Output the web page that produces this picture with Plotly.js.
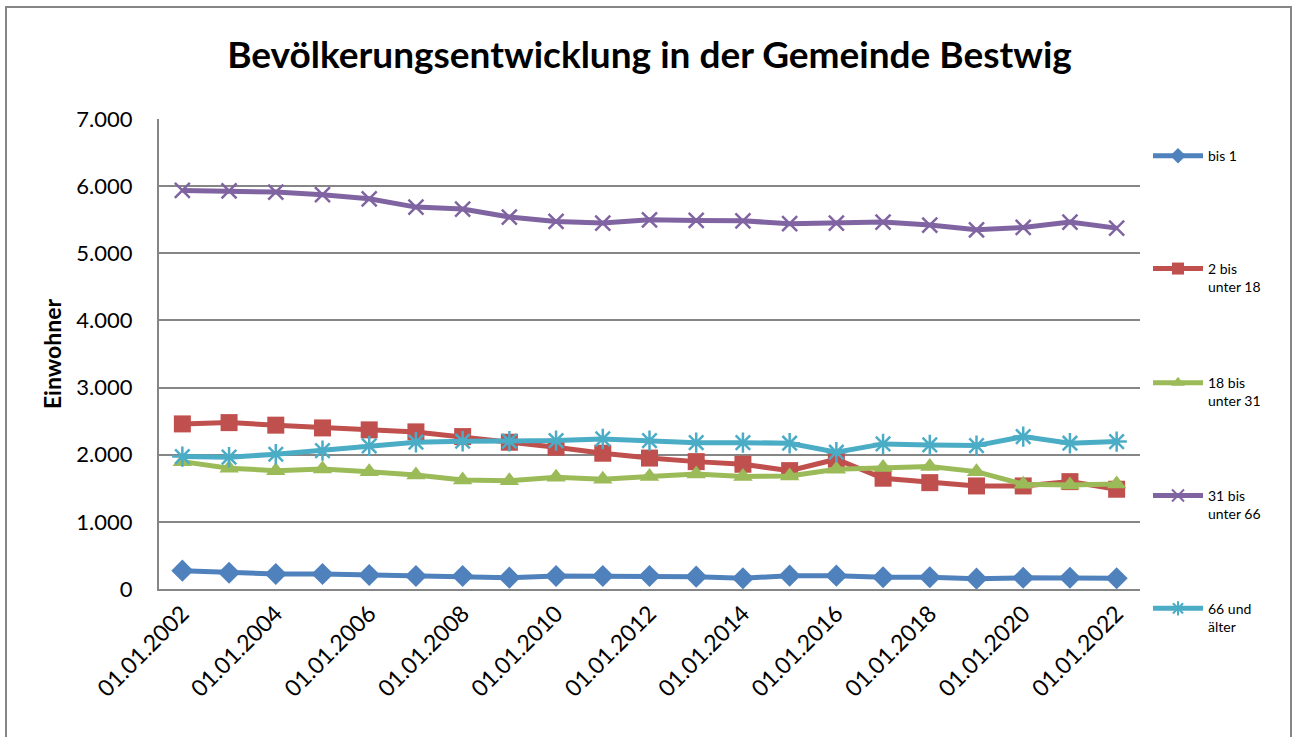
<!DOCTYPE html>
<html>
<head>
<meta charset="utf-8">
<script src="https://cdn.plot.ly/plotly-3.0.1.min.js"></script>
<style>html,body{margin:0;padding:0;background:#fff;}#chart{width:1298px;height:737px;}</style>
</head>
<body>
<div id="chart"></div>
<script>
const dates = ["01.01.2002","01.01.2003","01.01.2004","01.01.2005","01.01.2006","01.01.2007","01.01.2008","01.01.2009","01.01.2010","01.01.2011","01.01.2012","01.01.2013","01.01.2014","01.01.2015","01.01.2016","01.01.2017","01.01.2018","01.01.2019","01.01.2020","01.01.2021","01.01.2022"];
const bis1      = [273,243,224,224,209,194,194,169,194,194,194,184,159,199,199,174,174,154,167,167,160];
const bis18     = [2459,2478,2440,2399,2370,2340,2270,2186,2112,2022,1950,1897,1858,1763,1933,1650,1584,1535,1535,1599,1486];
const bis31     = [1897,1799,1763,1788,1748,1699,1624,1614,1664,1634,1675,1714,1674,1684,1784,1808,1823,1748,1560,1550,1565];
const bis66     = [5936,5930,5911,5872,5812,5688,5658,5540,5474,5450,5499,5489,5484,5440,5450,5465,5420,5350,5385,5465,5375];
const ab66      = [1972,1963,2007,2061,2131,2186,2201,2201,2210,2235,2210,2180,2180,2171,2037,2161,2146,2136,2270,2171,2195];
const seriesNames = ["bis 1","2 bis<br>unter 18","18 bis<br>unter 31","31 bis<br>unter 66","66 und<br>älter"];
const xTickVals = ["01.01.2002","01.01.2004","01.01.2006","01.01.2008","01.01.2010","01.01.2012","01.01.2014","01.01.2016","01.01.2018","01.01.2020","01.01.2022"];

const FONT = "Lato, 'Liberation Sans', sans-serif";
const colors = ["#4F81BD","#C0504D","#9BBB59","#8064A2","#4BACC6"];
const symbols = ["diamond","square","triangle-up","x-thin-open","asterisk-open"];
const msizes = [17,17,17,15,17];
const data = [bis1,bis18,bis31,bis66,ab66];
const legendIds = ["legend","legend2","legend3","legend4","legend5"];

const traces = data.map((ys,i)=>({
  type:"scatter", mode:"lines+markers", x:dates, y:ys, name:seriesNames[i],
  legend: legendIds[i],
  line:{color:colors[i], width:5},
  marker:{symbol:symbols[i], size:msizes[i], color:colors[i],
          line:{color:colors[i], width:(i>=3?2.5:0)}}
}));

const legY = [0.955,0.715,0.472,0.232,-0.008];
const layout = {
  width:1298, height:737,
  margin:{l:159, r:158, t:119, b:148},
  paper_bgcolor:"#fff", plot_bgcolor:"#fff",
  separators:",.",
  font:{family:FONT, color:"#000"},
  title:{text:"Bevölkerungsentwicklung in der Gemeinde Bestwig", font:{family:FONT, size:37, weight:"bold", color:"#000"},
         x:0.5, xref:"paper", y:1-55/737, yref:"container", yanchor:"middle"},
  xaxis:{type:"category", range:[-0.5,20.5], tickmode:"array", tickvals:xTickVals, ticktext:xTickVals,
         tickangle:-45, tickfont:{family:FONT, size:23, color:"#000"}, showgrid:false,
         showline:true, linecolor:"#868686", linewidth:2, ticks:"", automargin:false, zeroline:false},
  yaxis:{range:[0,7000], dtick:1000, tick0:0, tickformat:",d", tickfont:{family:FONT, size:22, color:"#000"},
         showgrid:true, gridcolor:"#868686", gridwidth:2, showline:true, linecolor:"#868686", linewidth:2,
         ticks:"outside", ticklen:20, tickcolor:"rgba(0,0,0,0)", zeroline:false, automargin:false,
         title:{text:"Einwohner", font:{family:FONT, size:23, weight:"bold", color:"#000"}, standoff:8}},
  shapes:[{type:"rect", xref:"paper", yref:"paper", x0:(6-159)/981, x1:(1291-159)/981, y0:-0.4, y1:(589-7)/470,
           line:{color:"#868686", width:2}, fillcolor:"rgba(0,0,0,0)", layer:"below"}],
  showlegend:true
};
legendIds.forEach((id,i)=>{
  layout[id] = {x:(1148-159)/981, xanchor:"left", y:legY[i], yanchor:"top", valign:"top", itemwidth:50,
    itemsizing:"constant",
    bgcolor:"rgba(0,0,0,0)", borderwidth:0, font:{family:FONT, size:14, color:"#000"}, itemclick:false};
});
Plotly.newPlot("chart", traces, layout, {displayModeBar:false, staticPlot:true});
</script>
</body>
</html>
